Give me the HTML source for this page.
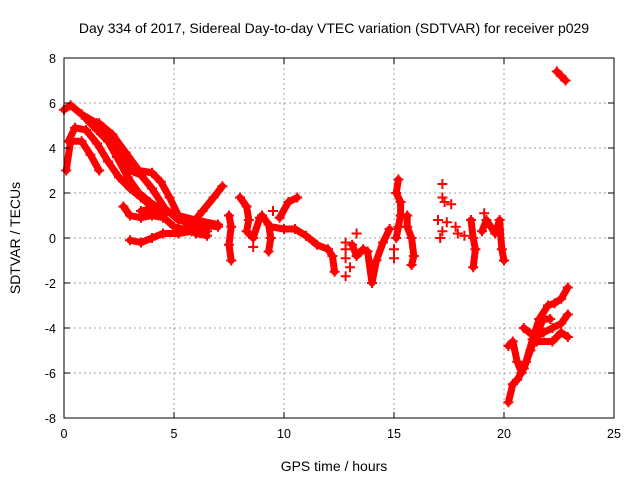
<!DOCTYPE html>
<html><head><meta charset="utf-8"><style>
body{margin:0;background:#fff;}
svg{display:block;font-family:"Liberation Sans",sans-serif;}
</style></head><body>
<svg id="chart" width="640" height="480" viewBox="0 0 640 480">
<text x="334" y="33" font-size="14" text-anchor="middle">Day 334 of 2017, Sidereal Day-to-day VTEC variation (SDTVAR) for receiver p029</text>
<text x="334" y="471" font-size="14" text-anchor="middle">GPS time / hours</text>
<text transform="translate(20,238) rotate(-90)" font-size="14" text-anchor="middle">SDTVAR / TECUs</text>
<g id="grid"></g>
<g id="marks"></g>
<g id="axes"></g>
</svg>
<script>
const xTicks=[0,5,10,15,20,25];
const yTicks=[-8,-6,-4,-2,0,2,4,6,8];
const track1=[[0,5.7],[0.3,5.9],[0.8,5.5],[1.5,5.1],[2,4.6],[2.5,3.8],[3,3.0],[3.5,2.8],[4,2.2],[4.6,1.3],[5.2,0.8],[6,0.6],[7,0.5]];
const track2=[[0.2,4.3],[0.5,4.9],[1,4.8],[1.5,4.2],[2,3.4],[2.5,2.7],[3,2.2],[3.5,1.8],[4.2,1.2],[5,0.5],[5.8,0.3],[6.5,0.3]];
const track3=[[0.1,3.0],[0.3,4.3],[0.8,4.3],[1.2,3.7],[1.6,3.0]];
const track4=[[1.0,5.3],[1.5,4.8],[2.0,4.3],[2.4,3.6],[2.9,2.7],[3.4,2.0],[3.9,1.6],[4.5,1.2],[5.2,1.0],[6,0.8],[7,0.6]];
const track5=[[1.6,5.1],[2.2,4.6],[2.8,3.8],[3.4,3.0],[4.0,2.9],[4.4,2.5],[4.8,1.8],[5.2,1.0],[6,0.2],[6.5,0.1]];
const track6=[[3.0,-0.1],[3.5,-0.2],[4.0,0.0],[4.5,0.2],[5.2,0.2],[5.8,0.3],[6.3,0.4]];
const track7=[[2.7,1.4],[3.0,1.0],[3.5,0.9],[4,1.0],[4.5,0.9]];
const track8=[[3.5,1.2],[4,1.3],[5,1.1],[5.5,0.8]];
const track9=[[5.8,0.6],[6.3,1.2],[6.8,1.8],[7.2,2.3]];
const track10=[[7.5,1.0],[7.6,0.5],[7.5,-0.3],[7.6,-1.0]];
const track11=[[8.0,1.8],[8.3,1.4],[8.4,0.8],[8.3,0.3],[8.6,0.0],[8.9,0.9]];
const track12=[[9.0,1.0],[9.3,0.6],[9.4,0.0],[9.3,-0.6]];
const track13=[[9.8,0.9],[10.2,1.6],[10.6,1.8]];
const track14=[[9.4,0.5],[10,0.4],[10.5,0.4],[11,0.1],[11.5,-0.3],[12,-0.5],[12.2,-0.8],[12.3,-1.5]];
const track15=[[13.1,-0.3],[13.3,-0.8],[13.6,-0.5],[13.8,-0.6],[14.0,-2.0],[14.2,-1.0],[14.5,-0.2],[14.8,0.4]];
const track16=[[15.2,2.6],[15.1,2.0],[15.3,1.6],[15.3,1.0],[15.2,0.5],[15.1,0.0]];
const track17=[[15.6,1.0],[15.6,0.5],[15.8,0.0],[15.9,-0.8],[15.8,-1.2]];
const track18=[[18.5,0.8],[18.6,0.0],[18.7,-0.5],[18.6,-1.3]];
const track19=[[19.0,0.3],[19.2,0.8],[19.4,0.5],[19.6,0.2],[19.8,0.8],[19.9,-0.5],[20.0,-1.0]];
const track20=[[20.2,-4.8],[20.4,-4.6],[20.6,-5.5],[20.8,-6.0],[21.0,-5.5],[21.3,-4.5],[21.6,-3.6],[22,-3.0],[22.3,-2.9],[22.6,-2.7],[22.9,-2.2]];
const track21=[[20.2,-7.3],[20.4,-6.5],[20.6,-6.3],[20.9,-5.8],[21.2,-5.0],[21.5,-4.2],[21.8,-3.6],[22.1,-3.6]];
const track22=[[20.9,-4.0],[21.4,-4.4],[21.8,-4.2],[22.2,-4.0],[22.6,-3.8],[22.9,-3.4]];
const track23=[[21.5,-4.6],[22.2,-4.6],[22.6,-4.2],[22.9,-4.4]];
const track24=[[22.4,7.4],[22.6,7.2],[22.8,7.0]];
const isolated=[[12.8,-0.2],[12.8,-0.5],[12.8,-0.9],[12.8,-1.7],[13.0,-1.3],[13.3,0.2],[17.2,2.4],[17.2,1.8],[17.3,1.6],[17.0,0.8],[17.4,0.7],[17.1,0.0],[17.2,0.3],[17.6,1.5],[17.8,0.5],[17.9,0.2],[18.2,0.1],[19.1,1.1],[15.0,-0.5],[15.0,-0.9],[8.6,-0.4],[9.5,1.2]];
const tracks=[track1,track2,track3,track4,track5,track6,track7,track8,track9,track10,track11,track12,track13,track14,track15,track16,track17,track18,track19,track20,track21,track22,track23,track24];

const L=64,R=614,T=58,B=418;
const xs=v=>L+(v-0)/25*(R-L);
const ys=v=>B-(v+8)/16*(B-T);
const NS='http://www.w3.org/2000/svg';
const grid=document.getElementById('grid'),marks=document.getElementById('marks'),axes=document.getElementById('axes');
function mk(tag,attrs,parent){const e=document.createElementNS(NS,tag);for(const k in attrs)e.setAttribute(k,attrs[k]);parent.appendChild(e);return e;}
xTicks.forEach(t=>{
 const x=xs(t);
 if(t>0&&t<25){const g=mk('line',{x1:x,x2:x,y1:T,y2:B,stroke:'#a0a0a0','stroke-dasharray':'2,3'},grid);
 
 }
 mk('line',{x1:x,x2:x,y1:B,y2:B-6,stroke:'#000'},axes);
 mk('line',{x1:x,x2:x,y1:T,y2:T+6,stroke:'#000'},axes);
 const lb=mk('text',{x:x,y:B+20,'font-size':12.5,'text-anchor':'middle'},axes);lb.textContent=t;
 
 
});
yTicks.forEach(t=>{
 const y=ys(t);
 if(t>-8&&t<8){const g=mk('line',{x1:L,x2:R,y1:y,y2:y,stroke:'#a0a0a0','stroke-dasharray':'2,3'},grid);
 
 }
 mk('line',{x1:L,x2:L+6,y1:y,y2:y,stroke:'#000'},axes);
 mk('line',{x1:R,x2:R-6,y1:y,y2:y,stroke:'#000'},axes);
 const lb=mk('text',{x:L-8,y:y+5,'font-size':12.5,'text-anchor':'end'},axes);lb.textContent=t;
 
 
});
const frame=mk('rect',{x:L,y:T,width:R-L,height:B-T,fill:'none',stroke:'#000','stroke-width':1},axes);


function plus(p){
 const x=xs(p[0]),y=ys(p[1]);
 const c=mk('path',{d:`M${x-5},${y}H${x+5}M${x},${y-5}V${y+5}`,stroke:'#f00','stroke-width':2},marks);
 
 
}
tracks.forEach(tr=>{
 const pl=mk('polyline',{points:tr.map(p=>xs(p[0])+','+ys(p[1])).join(' '),fill:'none',stroke:'#f00','stroke-width':7,'stroke-linejoin':'round','stroke-linecap':'round'},marks);
 
 
 tr.forEach(plus);
});
isolated.forEach(plus);
</script>
</body></html>
